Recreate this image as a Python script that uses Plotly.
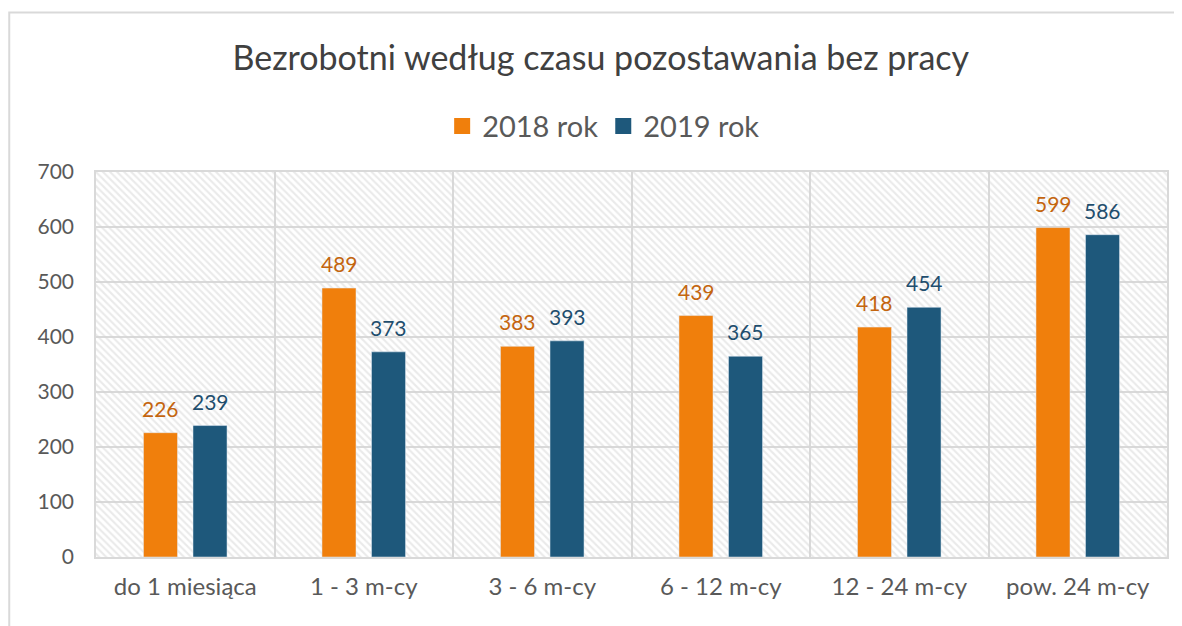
import plotly.graph_objects as go

categories = ["do 1 miesiąca", "1 - 3 m-cy", "3 - 6 m-cy", "6 - 12 m-cy", "12 - 24 m-cy", "pow. 24 m-cy"]
values_2018 = [226, 489, 383, 439, 418, 599]
values_2019 = [239, 373, 393, 365, 454, 586]
series_names = ["2018 rok", "2019 rok"]

orange = "#F07F0C"
blue = "#1E587B"
orange_txt = "#C4650F"
blue_txt = "#1F4E6E"
grid = "#D9D9D9"
font_name = "Lato"

fig = go.Figure()

# hatched background of the plot area (main axes, drawn under the bars)
fig.add_trace(go.Scatter(
    x=[0, 1, 1, 0, 0], y=[0, 0, 1, 1, 0],
    mode="lines", line=dict(width=0),
    fill="toself", fillcolor="rgba(0,0,0,0)",
    fillpattern=dict(shape="\\", fgcolor="#D6D6D6", bgcolor="rgba(0,0,0,0)", size=5, solidity=0.42),
    hoverinfo="skip", showlegend=False,
))

fig.add_trace(go.Bar(
    x=categories, y=values_2018, name=series_names[0], xaxis="x2", yaxis="y2",
    marker_color=orange, offsetgroup="a", showlegend=False,
))
fig.add_trace(go.Bar(
    x=categories, y=values_2019, name=series_names[1], xaxis="x2", yaxis="y2",
    marker_color=blue, offsetgroup="b", showlegend=False,
))

# legend entries with larger square keys
for name, col in zip(series_names, [orange, blue]):
    fig.add_trace(go.Scatter(
        x=[None], y=[None], name=name, mode="markers", xaxis="x2", yaxis="y2",
        marker=dict(symbol="square", size=16, color=col),
    ))

# value labels
annotations = []
for cat, v18, v19 in zip(categories, values_2018, values_2019):
    annotations.append(dict(x=cat, y=v18, xref="x2", yref="y2", text=str(v18), showarrow=False,
                            xshift=-24.75, yshift=10, yanchor="bottom",
                            font=dict(size=21, color=orange_txt, family=font_name)))
    annotations.append(dict(x=cat, y=v19, xref="x2", yref="y2", text=str(v19), showarrow=False,
                            xshift=24.75, yshift=10, yanchor="bottom",
                            font=dict(size=21, color=blue_txt, family=font_name)))

fig.update_layout(
    width=1174, height=618,
    margin=dict(l=88, r=15, t=164, b=69),
    paper_bgcolor="white", plot_bgcolor="white",
    font=dict(family=font_name, color="#595959"),
    title=dict(text="Bezrobotni według czasu pozostawania bez pracy",
               x=0.505, xanchor="center", y=0.919, yanchor="middle",
               font=dict(size=34, color="#404040", family=font_name)),
    legend=dict(orientation="h", x=0.474, xanchor="center", y=1.119, yanchor="middle",
                font=dict(size=29, color="#595959", family=font_name),
                itemwidth=30, itemsizing="trace", traceorder="normal"),
    barmode="group", bargap=0.445, bargroupgap=0.313,
    xaxis=dict(range=[0, 1], visible=False, fixedrange=True),
    yaxis=dict(range=[0, 1], visible=False, fixedrange=True),
    xaxis2=dict(overlaying="x", anchor="y2", side="bottom",
                tickson="boundaries", showgrid=True, gridcolor=grid, gridwidth=1.5,
                showline=True, linecolor=grid, linewidth=1.5, mirror=True,
                ticks="", tickfont=dict(size=24, color="#595959"), ticklabelstandoff=7),
    yaxis2=dict(overlaying="y", anchor="x2", side="left",
                range=[0, 700], dtick=100, showgrid=True, gridcolor=grid, gridwidth=1.5,
                showline=True, linecolor=grid, linewidth=1.5, mirror=True,
                ticks="", tickfont=dict(size=21, color="#595959"), ticklabelstandoff=16,
                zeroline=False),
    annotations=annotations,
    shapes=[dict(type="rect", xref="paper", yref="paper",
                 x0=-0.081, x1=1.05, y0=-0.3, y1=1.414,
                 line=dict(color=grid, width=2), layer="below")],
)

fig.write_html("out.html")
